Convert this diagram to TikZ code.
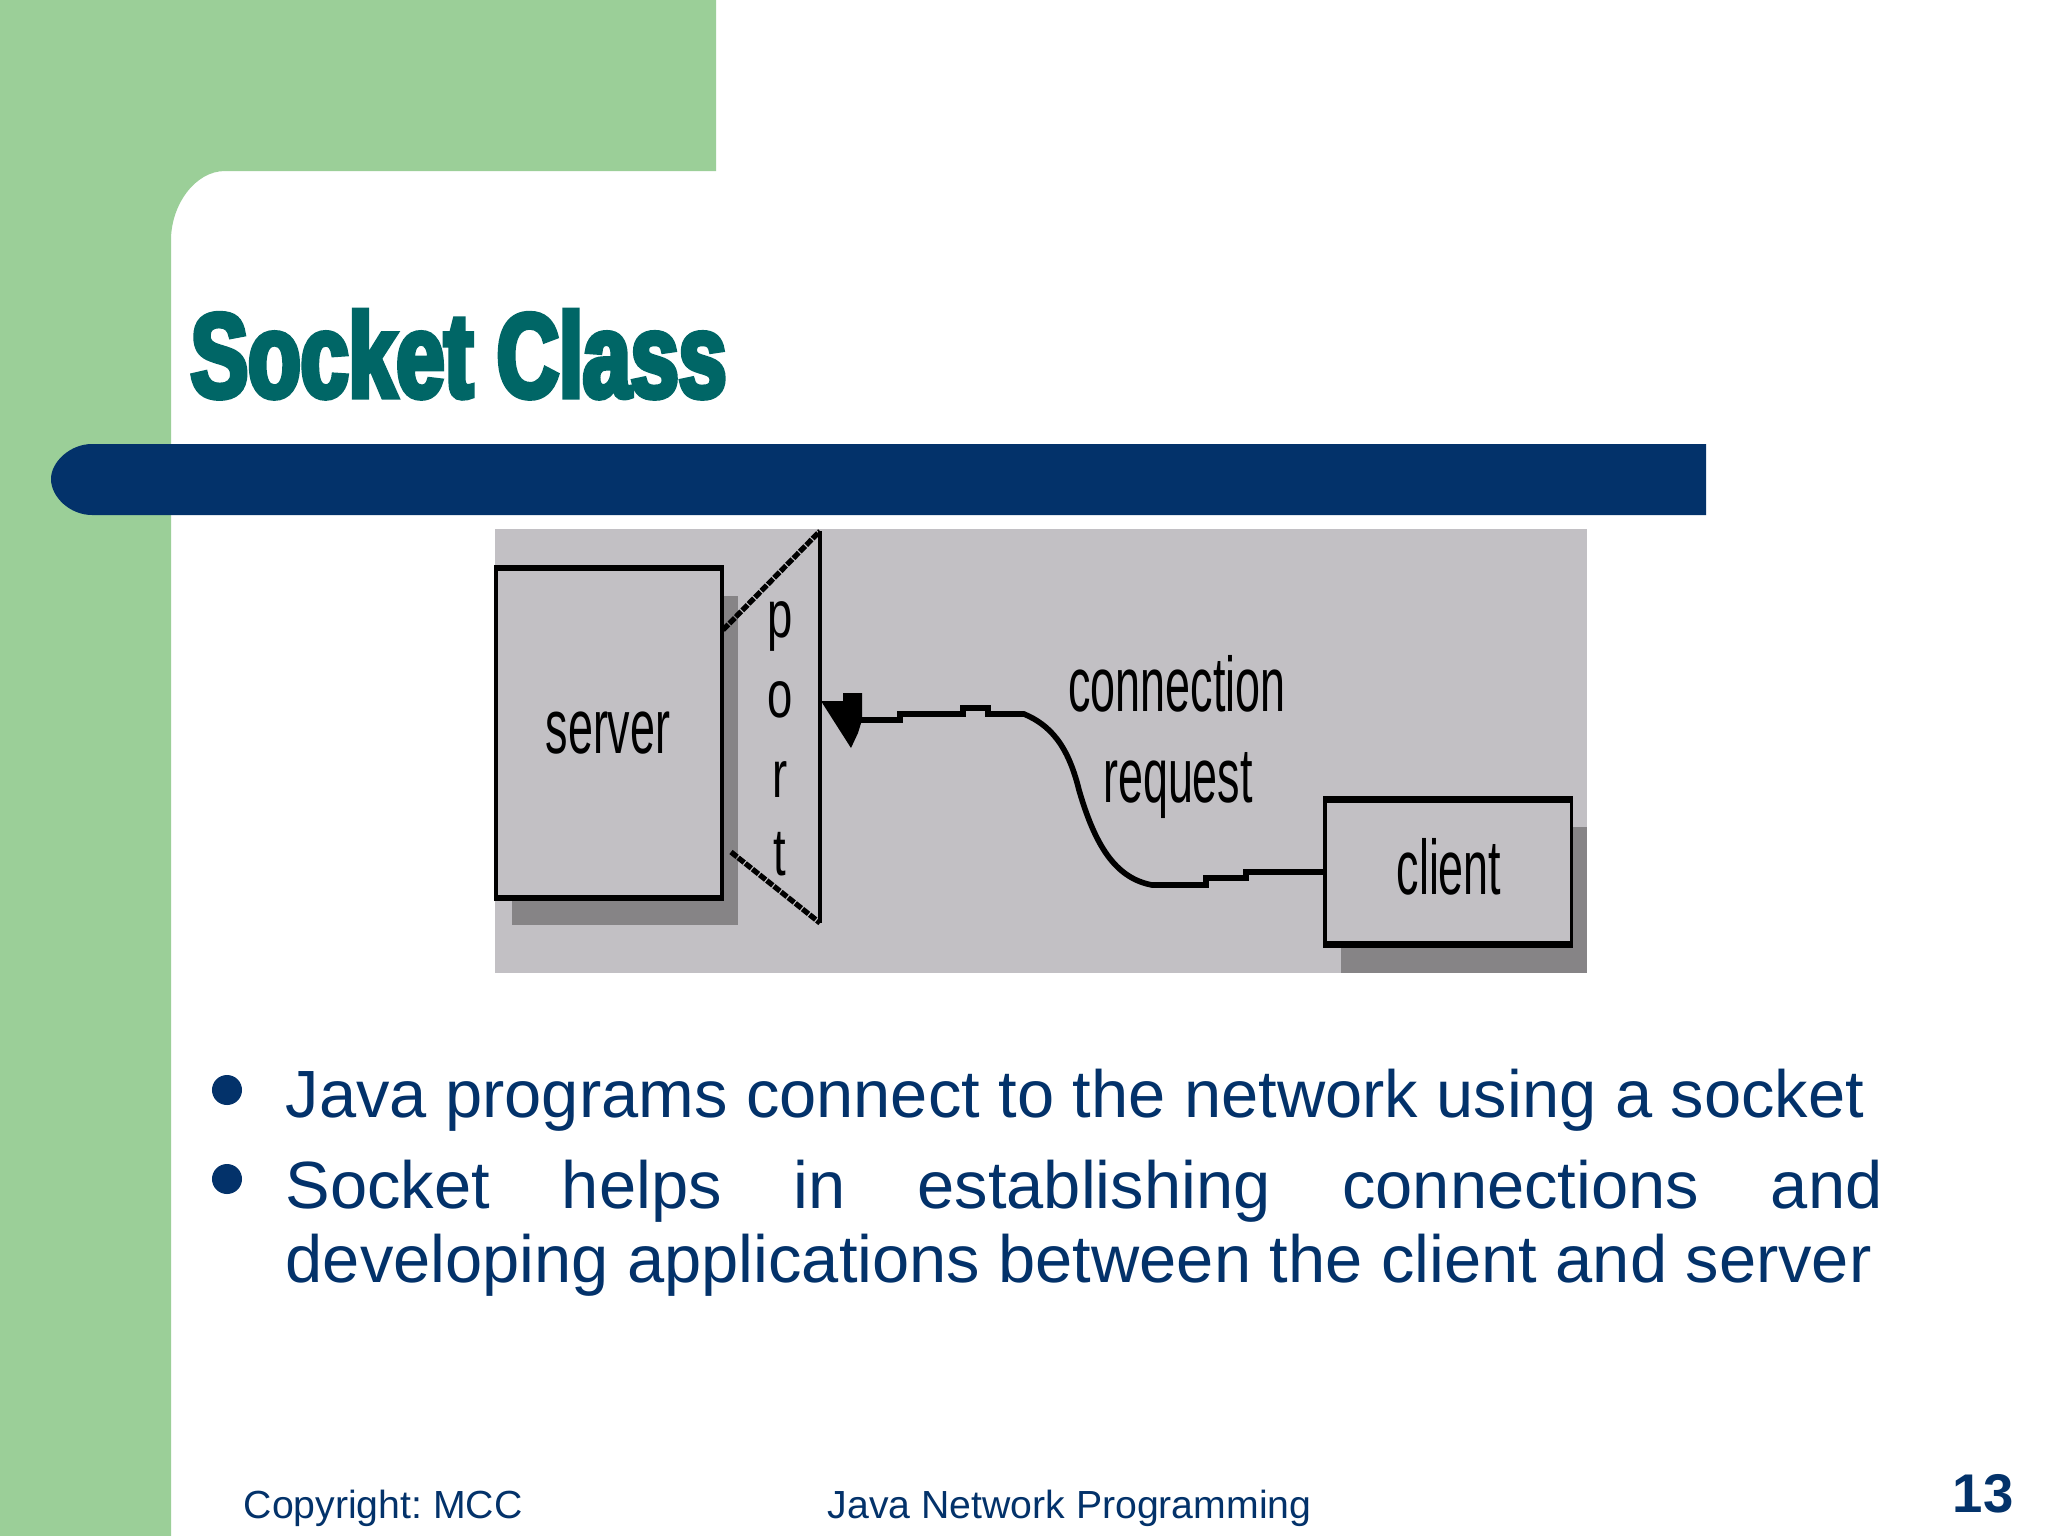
\documentclass[tikz,border=0pt]{standalone}
\usepackage{fontspec}
\setmainfont{Liberation Sans}
\newfontfamily\bitfont[FakeStretch=0.58]{Liberation Sans}
\newfontfamily\bitwide[FakeStretch=0.68]{Liberation Sans}
\newfontfamily\headfont[FakeStretch=0.72,FakeBold=4.5]{Liberation Sans Bold}
\definecolor{leafgreen}{HTML}{9BCF98}
\definecolor{navybar}{HTML}{03326A}
\definecolor{headteal}{HTML}{006666}
\definecolor{panelgrey}{HTML}{C2C0C4}
\definecolor{shadowgrey}{HTML}{868486}
\tikzset{
	boxnode/.style={rectangle, draw=black, line width=0.9pt, fill=panelgrey, inner sep=0pt},
	bitlabel/.style={anchor=base, inner sep=0pt, font=\bitfont\fontsize{22}{26}\selectfont},
	portlabel/.style={anchor=base, inner sep=0pt, font=\bitwide\fontsize{19}{26}\selectfont},
	bodytext/.style={anchor=base west, inner sep=0pt, text=navybar, font=\fontsize{19}{21.3}\selectfont},
	footertext/.style={anchor=base west, inner sep=0pt, text=navybar, font=\fontsize{11.15}{13}\selectfont},
	bulletdot/.style={circle, fill=navybar, inner sep=0pt, minimum size=0.3cm},
	wire/.style={draw=black, line width=1.6pt},
	pixelwire/.style={draw=black, line width=1.5pt, dash pattern=on 2.2pt off 0.4pt}
}
\begin{document}
\frenchspacing
\begin{tikzpicture}[x=0.01cm, y=-0.01cm]
	\useasboundingbox (0,0) rectangle (2048,1536);
	\fill[white] (0,0) rectangle (2048,1536);
	\fill[leafgreen] (0,0) -- (716,0) -- (716,171) -- (225,171) .. controls (195,171) and (171,205) .. (171,240) -- (171,1536) -- (0,1536) -- cycle;
	\fill[navybar] (1706,444) -- (92,444) .. controls (70,444) and (51,462) .. (51,479) .. controls (51,497) and (70,515) .. (92,515) -- (1706,515) -- cycle;

	\node[anchor=base west, inner sep=0pt, text=headteal, font=\headfont\fontsize{34}{40}\selectfont] (title) at (190,397) {Socket Class};

	\fill[panelgrey] (495,529) rectangle (1587,973);
	\fill[shadowgrey] (512,596) rectangle (738,925);
	\fill[shadowgrey] (1341,827) rectangle (1587,973);

	\node[boxnode, minimum width=2.26cm, minimum height=3.27cm] (server) at (609,733) {};
	\node[boxnode, minimum width=2.46cm, minimum height=1.42cm] (client) at (1448,872) {};
	\draw[line width=1.7pt] (server.north west) -- (server.north east);
	\draw[line width=1.7pt] (server.south west) -- (server.south east);
	\draw[line width=1.7pt] (client.north west) -- (client.north east);
	\draw[line width=1.7pt] (client.south west) -- (client.south east);

	\coordinate (porttop) at (820,531);
	\coordinate (portbottom) at (820,923);
	\coordinate (portmouth) at (723,630);
	\coordinate (portlip) at (731,852);
	\coordinate (tip) at (821,701);
	\draw[line width=0.9pt] (porttop) -- (portbottom);
	\path[pixelwire] (portmouth) -- (porttop);
	\path[pixelwire] (portlip) -- (portbottom);

	\fill[black] (tip) -- (843,701) -- (843,693) -- (862,693) -- (862,720) -- (858,733) -- (851,748) -- cycle;
	\path[wire] (client.west) -- (1246,872) -- (1246,878) -- (1206,878) -- (1206,885) -- (1152,885) .. controls (1115,878) and (1095,845) .. (1079,790) .. controls (1068,745) and (1050,725) .. (1024,714) -- (988,714) -- (988,708) -- (963,708) -- (963,714) -- (900,714) -- (900,720) -- (860,720);

	\node[bitlabel] (serverlabel) at (608,753) {server};
	\node[bitlabel] (clientlabel) at (1449,894) {client};
	\node[bitlabel] (connlabel) at (1177,711) {connection};
	\node[bitlabel] (reqlabel) at (1178,802) {request};
	\node[portlabel] (portp) at (780,637) {p};
	\node[portlabel] (porto) at (780,717) {o};
	\node[portlabel] (portr) at (780,797) {r};
	\node[portlabel] (portt) at (780,875) {t};

	\node[bulletdot] (dota) at (227,1090) {};
	\node[bulletdot] (dotb) at (227,1179) {};
	\node[bodytext] (linea) at (285,1117) {Java programs connect to the network using a socket};
	\node[bodytext, text width=15.96cm, align=justify] (lineb) at (285,1208) {Socket helps in establishing connections and\linebreak developing applications between the client and server};

	\node[footertext] (copy) at (243,1518) {Copyright: MCC};
	\node[footertext] (course) at (827,1518) {Java Network Programming};
	\node[anchor=base west, inner sep=0pt, text=navybar, font=\bfseries\fontsize{15.5}{17}\selectfont] (page) at (1952,1512) {13};
\end{tikzpicture}
\end{document}
